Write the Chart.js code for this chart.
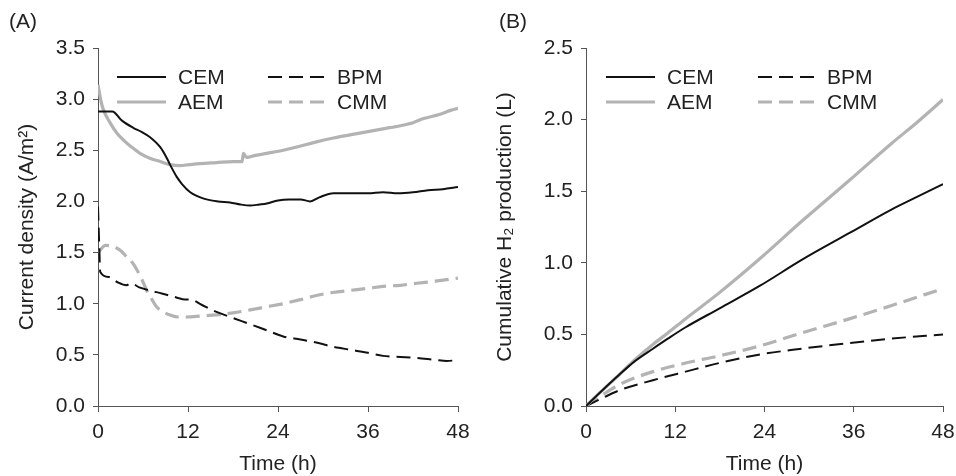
<!DOCTYPE html>
<html>
<head>
<meta charset="utf-8">
<script src="https://cdn.jsdelivr.net/npm/chart.js@4.4.1/dist/chart.umd.min.js"></script>
<style>
  html, body { margin: 0; padding: 0; background: #fff; }
  #wrap { position: relative; width: 956px; height: 476px; }
  .panel { position: absolute; top: 0; width: 478px; height: 476px; }
  #pa { left: 0; }
  #pb { left: 478px; }
</style>
</head>
<body>
<div id="wrap">
  <div class="panel" id="pa"><canvas id="chartA"></canvas></div>
  <div class="panel" id="pb"><canvas id="chartB"></canvas></div>
</div>
<script>
// time ticks (h)
var timeTicks = [0, 12, 24, 36, 48];

// (A) current density, A/m2  -- [time, value]
var densCEM = [[0,2.88],[1.9,2.88],[3.2,2.79],[4.7,2.72],[5.8,2.68],[6.9,2.63],[8.3,2.53],[9.2,2.42],[9.6,2.36],
  [10.5,2.24],[11.2,2.17],[12.3,2.09],[14,2.03],[16,2.0],[17.6,1.99],[19,1.97],[20.3,1.96],[21.5,1.97],[22.5,1.98],
  [24,2.01],[25.5,2.02],[27,2.02],[28.3,2.0],[29.5,2.04],[31.4,2.08],[34,2.08],[36,2.08],[38,2.09],[40,2.08],
  [42,2.09],[44,2.11],[46,2.12],[48,2.14]];
var densAEM = [[0,3.14],[0.4,2.98],[0.7,2.9],[1.6,2.77],[2.5,2.67],[3.4,2.6],[4.5,2.53],[5.6,2.47],[7,2.42],
  [8.3,2.39],[9.6,2.36],[10.9,2.35],[12.2,2.36],[13.6,2.37],[15.8,2.38],[18,2.39],[19.2,2.39],[19.4,2.47],
  [19.8,2.43],[21,2.45],[22.5,2.47],[24.7,2.5],[26.9,2.54],[29,2.58],[31.4,2.62],[33.6,2.65],[35.8,2.68],
  [38,2.71],[40.3,2.74],[42,2.77],[43.4,2.81],[45.5,2.85],[47,2.89],[48,2.91]];
var densBPM = [[0,1.95],[0.15,1.6],[0.3,1.31],[1.5,1.26],[2.6,1.21],[3.8,1.18],[4.4,1.2],[5.5,1.16],[6.9,1.13],
  [8.5,1.1],[10,1.07],[11.8,1.04],[12.3,1.04],[13.8,0.99],[15.8,0.92],[18,0.86],[20.3,0.8],[22.5,0.74],
  [24.7,0.68],[27,0.65],[29.1,0.62],[31.3,0.58],[33.6,0.55],[36,0.52],[38,0.49],[40.3,0.48],[42.5,0.47],
  [45,0.45],[46.5,0.44],[48,0.45]];
var densCMM = [[0,1.5],[1,1.57],[2,1.56],[3,1.52],[3.8,1.46],[4.6,1.4],[5.2,1.33],[5.9,1.23],[6.5,1.13],
  [7.2,1.04],[7.8,0.97],[8.7,0.92],[9.6,0.89],[10.7,0.87],[11.8,0.87],[13.8,0.88],[15.8,0.89],[18,0.91],
  [20.3,0.94],[22.5,0.97],[24.7,1.0],[27,1.04],[29.1,1.08],[31.3,1.11],[33.6,1.13],[36,1.15],[38,1.17],
  [40.3,1.18],[42.5,1.2],[45,1.22],[48,1.25]];

// (B) cumulative H2 production, L
var h2CEM = [[0,0],[2,0.1],[4.5,0.22],[6.5,0.31],[9,0.4],[11,0.47],[13.4,0.55],[17.9,0.68],[23.4,0.84],
  [29,1.02],[35.5,1.21],[41,1.37],[44.5,1.46],[48,1.55]];
var h2AEM = [[0,0],[2,0.1],[4.5,0.22],[6.5,0.32],[9,0.43],[11,0.51],[13.4,0.61],[17.9,0.79],[23.4,1.03],
  [29,1.29],[35.5,1.58],[41,1.83],[44.5,1.98],[48,2.14]];
var h2BPM = [[0,0],[2,0.05],[4.5,0.11],[9,0.18],[13.4,0.24],[17.9,0.3],[23.4,0.36],[29,0.4],[35.5,0.44],
  [41,0.47],[48,0.5]];
var h2CMM = [[0,0],[2,0.07],[4.5,0.15],[9,0.24],[13.4,0.3],[17.9,0.35],[23.4,0.42],[29,0.51],[35.5,0.61],
  [41,0.7],[48,0.82]];

var seriesNames = ['CEM', 'AEM', 'BPM', 'CMM'];

var BLACK = '#111111';
var GRAY = '#b3b3b3';
var AXIS = '#555555';
var TEXT = '#222222';
var FONT = '"Liberation Sans", Arial, sans-serif';
var FSIZE = 21;

function toXY(arr) {
  return arr.map(function(p) { return { x: p[0], y: p[1] }; });
}

function makeDatasets(cem, aem, bpm, cmm) {
  return [
    { label: seriesNames[0], data: toXY(cem), borderColor: BLACK, borderWidth: 2 },
    { label: seriesNames[1], data: toXY(aem), borderColor: GRAY, borderWidth: 3.2 },
    { label: seriesNames[2], data: toXY(bpm), borderColor: BLACK, borderWidth: 2, borderDash: [14, 7] },
    { label: seriesNames[3], data: toXY(cmm), borderColor: GRAY, borderWidth: 3.2, borderDash: [14, 7] }
  ];
}

// two column legend drawn inside the plot area, plus the panel letter
var innerLegend = {
  id: 'innerLegend',
  afterDraw: function(chart, args, opts) {
    var ctx = chart.ctx;
    var area = chart.chartArea;
    var sets = chart.data.datasets;
    ctx.save();
    ctx.font = FSIZE + 'px ' + FONT;
    ctx.fillStyle = TEXT;
    ctx.textBaseline = 'middle';
    for (var i = 0; i < sets.length; i++) {
      var col = Math.floor(i / 2), row = i % 2;
      var x0 = area.left + opts.cols[col];
      var len = opts.lens[col];
      var y = area.top + opts.rows[row];
      ctx.beginPath();
      ctx.strokeStyle = sets[i].borderColor;
      ctx.lineWidth = sets[i].borderWidth;
      ctx.setLineDash(sets[i].borderDash || []);
      ctx.moveTo(x0, y);
      ctx.lineTo(x0 + len, y);
      ctx.stroke();
      ctx.setLineDash([]);
      ctx.fillText(sets[i].label, x0 + len + 12, y + 1);
    }
    ctx.fillText(opts.panel, opts.panelX, 22);
    ctx.restore();
  }
};

function makeOptions(yMax, yTitle, leftW, rightPad, legendCols, panel, panelX) {
  return {
    responsive: false,
    animation: false,
    layout: { padding: { top: 48, right: rightPad, bottom: 0, left: 0 } },
    elements: { point: { radius: 0 }, line: { cubicInterpolationMode: 'monotone', borderCapStyle: 'butt' } },
    plugins: {
      legend: { display: false },
      tooltip: { enabled: false },
      innerLegend: { cols: legendCols, lens: [49, 57], rows: [29, 54], panel: panel, panelX: panelX }
    },
    scales: {
      x: {
        type: 'linear', min: 0, max: 48,
        afterBuildTicks: function(s) { s.ticks = timeTicks.map(function(v) { return { value: v }; }); },
        afterFit: function(s) { s.height = 70; s.paddingLeft = 0; s.paddingRight = 0; },
        grid: { drawOnChartArea: false, tickLength: 6, color: AXIS, lineWidth: 1 },
        border: { color: AXIS, width: 1 },
        ticks: { color: TEXT, font: { family: FONT, size: FSIZE }, padding: 8, maxRotation: 0 },
        title: { display: true, text: 'Time (h)', color: TEXT, font: { family: FONT, size: FSIZE }, padding: { top: 0, bottom: -1 } }
      },
      y: {
        min: 0, max: yMax,
        afterFit: function(s) { s.width = leftW; },
        grid: { drawOnChartArea: false, tickLength: 5, color: AXIS, lineWidth: 1 },
        border: { color: AXIS, width: 1 },
        ticks: { stepSize: 0.5, color: TEXT, font: { family: FONT, size: FSIZE }, padding: 8,
          callback: function(v) { return v.toFixed(1); } },
        title: { display: true, text: yTitle, color: TEXT, font: { family: FONT, size: FSIZE }, padding: { top: 15, bottom: 0 } }
      }
    }
  };
}

var cA = document.getElementById('chartA');
cA.width = 478; cA.height = 476;
var cB = document.getElementById('chartB');
cB.width = 478; cB.height = 476;

var chartA = new Chart(cA, {
  type: 'line',
  data: { datasets: makeDatasets(densCEM, densAEM, densBPM, densCMM) },
  options: makeOptions(3.5, 'Current density (A/m\u00b2)', 98, 20, [19, 170], '(A)', 9),
  plugins: [innerLegend]
});

var chartB = new Chart(cB, {
  type: 'line',
  data: { datasets: makeDatasets(h2CEM, h2AEM, h2BPM, h2CMM) },
  options: makeOptions(2.5, 'Cumulative H\u2082 production (L)', 108, 13, [20, 172], '(B)', 21),
  plugins: [innerLegend]
});
</script>
</body>
</html>
